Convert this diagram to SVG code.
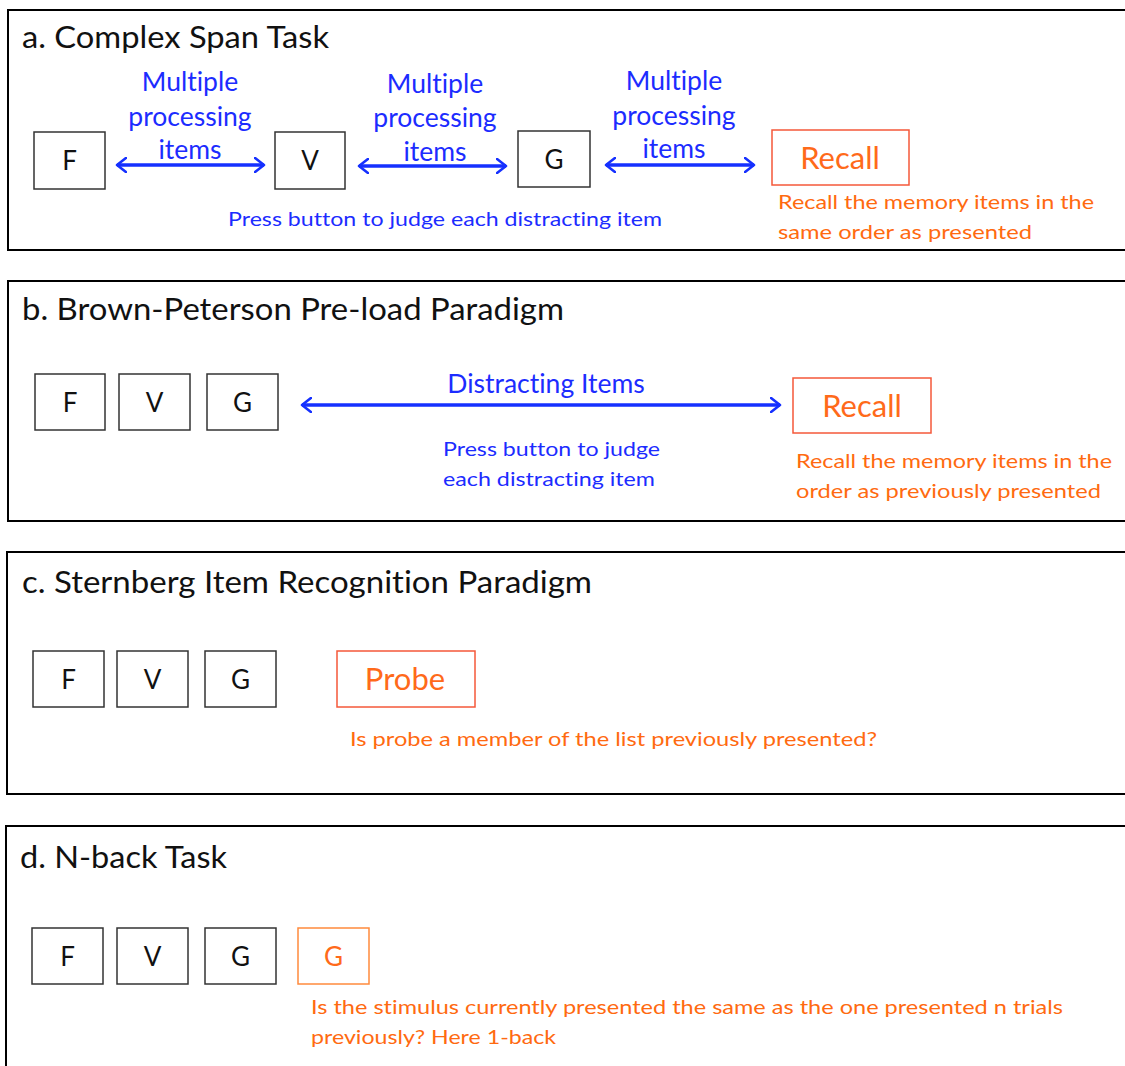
<svg xmlns="http://www.w3.org/2000/svg" width="1125" height="1066" viewBox="0 0 1125 1066">
  <style>
    text { font-family: Lato, "Liberation Sans", Arial, sans-serif; font-variant-ligatures: none; }
    .panel { fill: #ffffff; stroke: #000000; stroke-width: 2; }
    .title { font-size: 30px; fill: #111111; }
    .item { fill: #ffffff; stroke: #333333; stroke-width: 1.5; }
    .itemText { font-size: 26px; fill: #111111; text-anchor: middle; }
    .target { fill: #ffffff; stroke: #f5583a; stroke-width: 1.5; }
    .targetText { font-size: 31px; fill: #ff6a1a; text-anchor: middle; }
    .blue { font-size: 26.5px; fill: #1c2cff; }
    .blueSmall { font-size: 20px; fill: #1c2cff; }
    .orange { font-size: 20px; fill: #ff6a10; }
    .mid { text-anchor: middle; }
    .arrow { stroke: #1530ff; stroke-width: 3.5; fill: none; marker-start: url(#chev); marker-end: url(#chev); }
  </style>
  <defs>
    <marker id="chev" viewBox="0 0 12 16" refX="10" refY="8" markerWidth="3.4" markerHeight="4.6" orient="auto-start-reverse" markerUnits="strokeWidth">
      <path d="M1 1 L10 8 L1 15" fill="none" stroke="#1530ff" stroke-width="2.6" stroke-linecap="round" stroke-linejoin="round"/>
    </marker>
  </defs>

  <rect width="1125" height="1066" fill="#ffffff"/>

  <!-- panel frames (run off the right edge) -->
  <g id="frames">
    <rect class="panel" x="8" y="10" width="1130" height="240"/>
    <rect class="panel" x="8" y="281" width="1130" height="240"/>
    <rect class="panel" x="7" y="552" width="1130" height="242"/>
    <rect class="panel" x="6" y="826" width="1130" height="260"/>
  </g>

  <!-- a. Complex Span Task -->
  <g id="panel-a">
    <text class="title" x="22" y="48" textLength="307" lengthAdjust="spacingAndGlyphs">a. Complex Span Task</text>
    <g id="a-F"><rect class="item" x="34" y="132" width="71" height="57"/><text class="itemText" x="69.5" y="170">F</text></g>
    <g id="a-V"><rect class="item" x="275" y="132" width="70" height="57"/><text class="itemText" x="310" y="170">V</text></g>
    <g id="a-G"><rect class="item" x="518" y="131" width="72" height="56"/><text class="itemText" x="554" y="169">G</text></g>
    <g id="a-Recall"><rect class="target" x="772" y="130" width="137" height="55"/><text class="targetText" x="840" y="169">Recall</text></g>
    <g id="a-label1" class="blue mid">
      <text x="190" y="91">Multiple</text>
      <text x="190" y="126">processing</text>
      <text x="190" y="159">items</text>
    </g>
    <g id="a-label2" class="blue mid">
      <text x="435" y="93">Multiple</text>
      <text x="435" y="127">processing</text>
      <text x="435" y="161">items</text>
    </g>
    <g id="a-label3" class="blue mid">
      <text x="674" y="90">Multiple</text>
      <text x="674" y="125">processing</text>
      <text x="674" y="158">items</text>
    </g>
    <text class="blueSmall" x="228" y="226" textLength="434" lengthAdjust="spacingAndGlyphs">Press button to judge each distracting item</text>
    <text class="orange" x="778" y="209" textLength="316" lengthAdjust="spacingAndGlyphs">Recall the memory items in the</text>
    <text class="orange" x="778" y="239" textLength="254" lengthAdjust="spacingAndGlyphs">same order as presented</text>
  </g>

  <!-- b. Brown-Peterson Pre-load Paradigm -->
  <g id="panel-b">
    <text class="title" x="22" y="320" textLength="542" lengthAdjust="spacingAndGlyphs">b. Brown-Peterson  Pre-load  Paradigm</text>
    <g id="b-F"><rect class="item" x="35" y="374" width="70" height="56"/><text class="itemText" x="70" y="412">F</text></g>
    <g id="b-V"><rect class="item" x="119" y="374" width="71" height="56"/><text class="itemText" x="154.5" y="412">V</text></g>
    <g id="b-G"><rect class="item" x="207" y="374" width="71" height="56"/><text class="itemText" x="242.5" y="412">G</text></g>
    <g id="b-Recall"><rect class="target" x="793" y="378" width="138" height="55"/><text class="targetText" x="862" y="417">Recall</text></g>
    <text class="blue mid" x="546" y="393">Distracting Items</text>
    <text class="blueSmall" x="443" y="456" textLength="217" lengthAdjust="spacingAndGlyphs">Press button to judge</text>
    <text class="blueSmall" x="443" y="486" textLength="212" lengthAdjust="spacingAndGlyphs">each distracting item</text>
    <text class="orange" x="796" y="468" textLength="316" lengthAdjust="spacingAndGlyphs">Recall the memory items in the</text>
    <text class="orange" x="796" y="498" textLength="305" lengthAdjust="spacingAndGlyphs">order as previously presented</text>
  </g>

  <!-- c. Sternberg Item Recognition Paradigm -->
  <g id="panel-c">
    <text class="title" x="22" y="593" textLength="570" lengthAdjust="spacingAndGlyphs">c. Sternberg  Item  Recognition  Paradigm</text>
    <g id="c-F"><rect class="item" x="33" y="651" width="71" height="56"/><text class="itemText" x="68.5" y="689">F</text></g>
    <g id="c-V"><rect class="item" x="117" y="651" width="71" height="56"/><text class="itemText" x="152.5" y="689">V</text></g>
    <g id="c-G"><rect class="item" x="205" y="651" width="71" height="56"/><text class="itemText" x="240.5" y="689">G</text></g>
    <g id="c-Probe"><rect class="target" x="337" y="651" width="138" height="56"/><text class="targetText" x="405" y="690">Probe</text></g>
    <text class="orange" x="350" y="746" textLength="527" lengthAdjust="spacingAndGlyphs">Is probe a member of the list previously presented?</text>
  </g>

  <!-- d. N-back Task -->
  <g id="panel-d">
    <text class="title" x="20" y="868" textLength="207" lengthAdjust="spacingAndGlyphs">d. N-back  Task</text>
    <g id="d-F"><rect class="item" x="32" y="928" width="71" height="56"/><text class="itemText" x="67.5" y="966">F</text></g>
    <g id="d-V"><rect class="item" x="117" y="928" width="71" height="56"/><text class="itemText" x="152.5" y="966">V</text></g>
    <g id="d-G"><rect class="item" x="205" y="928" width="71" height="56"/><text class="itemText" x="240.5" y="966">G</text></g>
    <g id="d-G2"><rect x="298" y="928" width="71" height="56" fill="#ffffff" stroke="#ff8a3d" stroke-width="1.5"/><text class="itemText" x="333.5" y="966" style="fill:#ff6a1a">G</text></g>
    <text class="orange" x="311" y="1014" textLength="752" lengthAdjust="spacingAndGlyphs">Is the stimulus currently presented the same as the one presented n trials</text>
    <text class="orange" x="311" y="1044" textLength="245" lengthAdjust="spacingAndGlyphs">previously? Here 1-back</text>
  </g>

  <!-- connectors -->
  <g id="connectors">
    <line class="arrow" x1="117" y1="165" x2="264" y2="165"/>
    <line class="arrow" x1="359" y1="166" x2="506" y2="166"/>
    <line class="arrow" x1="606" y1="165" x2="754" y2="165"/>
    <line class="arrow" x1="302" y1="405" x2="780" y2="405"/>
  </g>
</svg>
